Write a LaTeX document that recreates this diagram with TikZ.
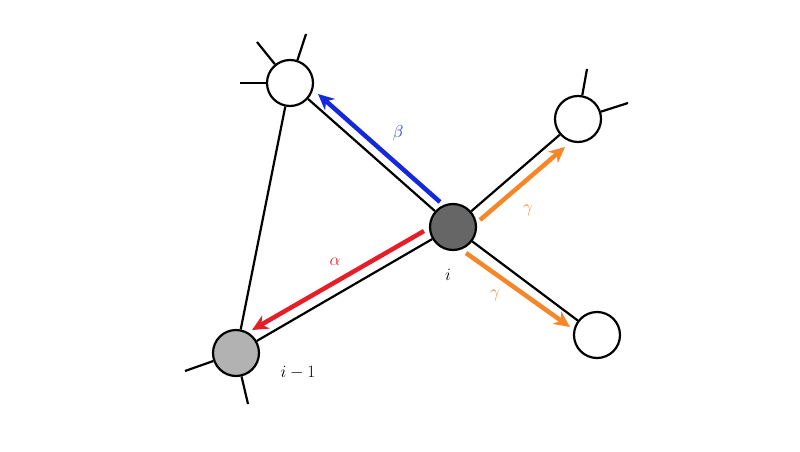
\documentclass[tikz,border=0pt]{standalone}
\usetikzlibrary{arrows.meta}
\definecolor{myblue}{RGB}{20,40,220}
\definecolor{myred}{RGB}{230,30,40}
\definecolor{myorange}{RGB}{245,135,40}
\begin{document}
\begin{tikzpicture}[x=1pt,y=-1pt,
  vtx/.style={circle,draw,line width=2.2pt,minimum size=46pt,inner sep=0pt},
  ln/.style={line width=2.2pt},
  arr/.style={line width=4.5pt,-{Stealth[length=16pt,width=15pt]}},
  lab/.style={font=\LARGE}]
\useasboundingbox (0,0) rectangle (800,452);
\node[vtx,fill=white] (a) at (290,83) {};
\node[vtx,fill=white] (b) at (578,119) {};
\node[vtx,fill=black!60] (c) at (453,227) {};
\node[vtx,fill=white] (d) at (597,335) {};
\node[vtx,fill=black!30] (e) at (236,353) {};
\coordinate (s1) at (257,42); \coordinate (s2) at (306,34); \coordinate (s3) at (240,83);
\coordinate (s4) at (587,69); \coordinate (s5) at (628,103);
\coordinate (s6) at (185,371); \coordinate (s7) at (248,404);
\foreach \p/\q in {a/s1,a/s2,a/s3,b/s4,b/s5,e/s6,e/s7,a/e,c/a,c/b,c/d,c/e}
  \draw[ln] (\p) -- (\q);
\coordinate (b0) at (440,202); \coordinate (b1) at (318,94);
\coordinate (r0) at (424,231); \coordinate (r1) at (252,330);
\coordinate (o0) at (480,220); \coordinate (o1) at (565,147);
\coordinate (p0) at (466,253); \coordinate (p1) at (570,327);
\draw[arr,myblue] (b0) -- (b1);
\draw[arr,myred] (r0) -- (r1);
\draw[arr,myorange] (o0) -- (o1);
\draw[arr,myorange] (p0) -- (p1);
\node[lab,myblue] (lb) at (398,133) {$\beta$};
\node[lab,myred] (la) at (335,262) {$\alpha$};
\node[lab,myorange] (lg1) at (528,210) {$\gamma$};
\node[lab,myorange] (lg2) at (495,295) {$\gamma$};
\node[lab] (li) at (448,275) {$i$};
\node[lab] (lim) at (298,373) {$i-1$};
\end{tikzpicture}
\end{document}
